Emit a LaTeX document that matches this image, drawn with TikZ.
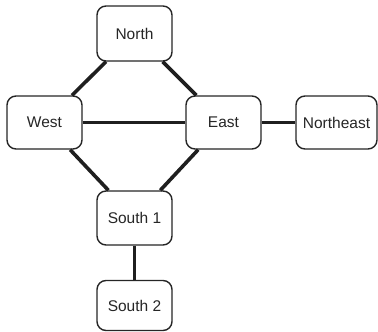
\documentclass[tikz,border=0pt]{standalone}
\usepackage{fontspec}
\setmainfont{Liberation Sans}
\begin{document}
\begin{tikzpicture}[x=1pt,y=-1pt,
  box/.style={draw=black!85, line width=1.4pt, rounded corners=9pt, fill=white,
    inner sep=0pt, font=\fontsize{15.5}{18}\selectfont, text=black!85},
  link/.style={line width=3.6pt, draw=black!88}]
\useasboundingbox (0,0) rectangle (378,332);
\node[box, minimum width=75pt, minimum height=55pt] (north) at (134.5,33.5) {North};
\node[box, minimum width=75pt, minimum height=53pt] (west) at (44.5,122.5) {West};
\node[box, minimum width=75pt, minimum height=53pt] (east) at (223.5,122.5) {East};
\node[box, minimum width=81pt, minimum height=53pt] (ne) at (336.5,122.5) {Northeast};
\node[box, minimum width=75pt, minimum height=54pt] (s1) at (134.5,218) {South 1};
\node[box, minimum width=75pt, minimum height=50pt] (s2) at (134.5,305.5) {South 2};
\draw[link] (north) -- (west);
\draw[link] (north) -- (east);
\draw[link] (west) -- (east);
\draw[link] (east) -- (ne);
\draw[link] (west) -- (s1);
\draw[link] (east) -- (s1);
\draw[link] (s1) -- (s2);
\end{tikzpicture}
\end{document}
